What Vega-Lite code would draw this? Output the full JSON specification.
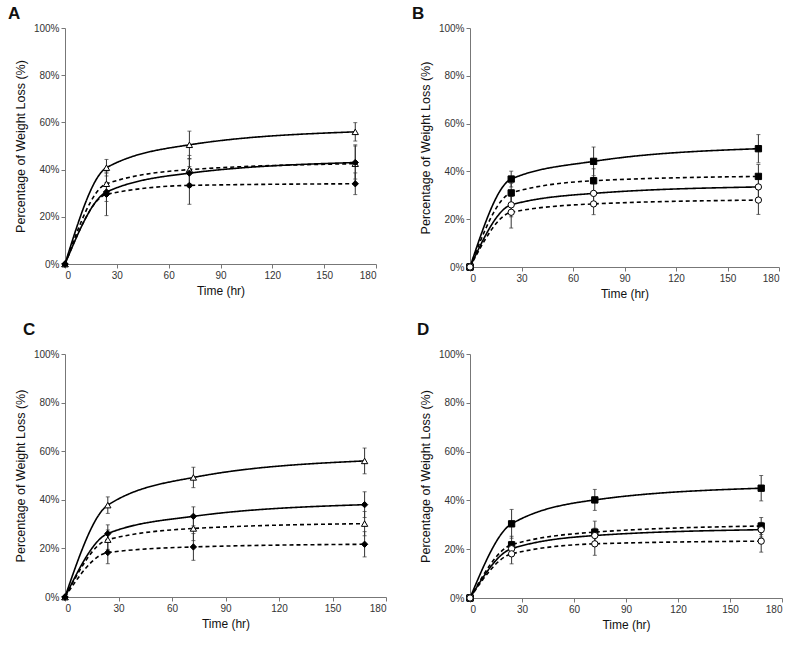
{
  "$schema": "https://vega.github.io/schema/vega-lite/v6.json",
  "background": "white",
  "padding": {"left": 8, "top": 5, "right": 10, "bottom": 5},
  "columns": 2,
  "spacing": {"row": 22, "column": 25},
  "config": {
    "font": "Liberation Sans",
    "view": {"stroke": null},
    "axis": {"grid": false, "domainColor": "#777", "tickColor": "#777", "labelColor": "#333", "labelFontSize": 10, "titleFontSize": 12, "titleFontWeight": "normal", "titleColor": "#111", "tickSize": 4},
    "axisX": {"titleFontSize": 12, "titleFontWeight": "normal", "titlePadding": 5},
    "axisY": {"titleFontSize": 12.5, "titleFontWeight": "normal", "titlePadding": 6},
    "title": {"fontSize": 17, "fontWeight": "bold", "anchor": "start", "frame": "group", "color": "#111"}
  },
  "datasets": {
    "pts": [
      {"panel": "A", "marker": "triangle", "fit": "solid", "time": 0, "loss": 0, "err": 0},
      {"panel": "A", "marker": "triangle", "fit": "solid", "time": 24, "loss": 40.8, "err": 3.5},
      {"panel": "A", "marker": "triangle", "fit": "solid", "time": 72, "loss": 50.5, "err": 5.8},
      {"panel": "A", "marker": "triangle", "fit": "solid", "time": 168, "loss": 56, "err": 3.9},
      {"panel": "A", "marker": "triangle", "fit": "dashed", "time": 0, "loss": 0, "err": 0},
      {"panel": "A", "marker": "triangle", "fit": "dashed", "time": 24, "loss": 34, "err": 5},
      {"panel": "A", "marker": "triangle", "fit": "dashed", "time": 72, "loss": 40, "err": 6},
      {"panel": "A", "marker": "triangle", "fit": "dashed", "time": 168, "loss": 42.5, "err": 8},
      {"panel": "A", "marker": "diamond", "fit": "solid", "time": 0, "loss": 0, "err": 0},
      {"panel": "A", "marker": "diamond", "fit": "solid", "time": 24, "loss": 30.5, "err": 4},
      {"panel": "A", "marker": "diamond", "fit": "solid", "time": 72, "loss": 38.5, "err": 6},
      {"panel": "A", "marker": "diamond", "fit": "solid", "time": 168, "loss": 43, "err": 7},
      {"panel": "A", "marker": "diamond", "fit": "dashed", "time": 0, "loss": 0, "err": 0},
      {"panel": "A", "marker": "diamond", "fit": "dashed", "time": 24, "loss": 29.5, "err": 9},
      {"panel": "A", "marker": "diamond", "fit": "dashed", "time": 72, "loss": 33.3, "err": 8},
      {"panel": "A", "marker": "diamond", "fit": "dashed", "time": 168, "loss": 34, "err": 4.6},
      {"panel": "B", "marker": "square", "fit": "solid", "time": 0, "loss": 0, "err": 0},
      {"panel": "B", "marker": "square", "fit": "solid", "time": 24, "loss": 36.8, "err": 3.3},
      {"panel": "B", "marker": "square", "fit": "solid", "time": 72, "loss": 44.2, "err": 6},
      {"panel": "B", "marker": "square", "fit": "solid", "time": 168, "loss": 49.5, "err": 5.9},
      {"panel": "B", "marker": "square", "fit": "dashed", "time": 0, "loss": 0, "err": 0},
      {"panel": "B", "marker": "square", "fit": "dashed", "time": 24, "loss": 31, "err": 4},
      {"panel": "B", "marker": "square", "fit": "dashed", "time": 72, "loss": 36.1, "err": 5},
      {"panel": "B", "marker": "square", "fit": "dashed", "time": 168, "loss": 37.9, "err": 5},
      {"panel": "B", "marker": "circle", "fit": "solid", "time": 0, "loss": 0, "err": 0},
      {"panel": "B", "marker": "circle", "fit": "solid", "time": 24, "loss": 26, "err": 5},
      {"panel": "B", "marker": "circle", "fit": "solid", "time": 72, "loss": 30.8, "err": 4},
      {"panel": "B", "marker": "circle", "fit": "solid", "time": 168, "loss": 33.5, "err": 5},
      {"panel": "B", "marker": "circle", "fit": "dashed", "time": 0, "loss": 0, "err": 0},
      {"panel": "B", "marker": "circle", "fit": "dashed", "time": 24, "loss": 22.9, "err": 6.6},
      {"panel": "B", "marker": "circle", "fit": "dashed", "time": 72, "loss": 26.4, "err": 4.5},
      {"panel": "B", "marker": "circle", "fit": "dashed", "time": 168, "loss": 28, "err": 6},
      {"panel": "C", "marker": "triangle", "fit": "solid", "time": 0, "loss": 0, "err": 0},
      {"panel": "C", "marker": "triangle", "fit": "solid", "time": 24, "loss": 37.8, "err": 3.4},
      {"panel": "C", "marker": "triangle", "fit": "solid", "time": 72, "loss": 49.2, "err": 4.2},
      {"panel": "C", "marker": "triangle", "fit": "solid", "time": 168, "loss": 56, "err": 5.3},
      {"panel": "C", "marker": "diamond", "fit": "solid", "time": 0, "loss": 0, "err": 0},
      {"panel": "C", "marker": "diamond", "fit": "solid", "time": 24, "loss": 26.1, "err": 3.6},
      {"panel": "C", "marker": "diamond", "fit": "solid", "time": 72, "loss": 33.2, "err": 3.9},
      {"panel": "C", "marker": "diamond", "fit": "solid", "time": 168, "loss": 38, "err": 5.3},
      {"panel": "C", "marker": "triangle", "fit": "dashed", "time": 0, "loss": 0, "err": 0},
      {"panel": "C", "marker": "triangle", "fit": "dashed", "time": 24, "loss": 23.6, "err": 4},
      {"panel": "C", "marker": "triangle", "fit": "dashed", "time": 72, "loss": 28.2, "err": 5},
      {"panel": "C", "marker": "triangle", "fit": "dashed", "time": 168, "loss": 30.2, "err": 5},
      {"panel": "C", "marker": "diamond", "fit": "dashed", "time": 0, "loss": 0, "err": 0},
      {"panel": "C", "marker": "diamond", "fit": "dashed", "time": 24, "loss": 18.3, "err": 4.6},
      {"panel": "C", "marker": "diamond", "fit": "dashed", "time": 72, "loss": 20.6, "err": 5.5},
      {"panel": "C", "marker": "diamond", "fit": "dashed", "time": 168, "loss": 21.7, "err": 5.2},
      {"panel": "D", "marker": "square", "fit": "solid", "time": 0, "loss": 0, "err": 0},
      {"panel": "D", "marker": "square", "fit": "solid", "time": 24, "loss": 30.4, "err": 5.9},
      {"panel": "D", "marker": "square", "fit": "solid", "time": 72, "loss": 40.2, "err": 4.3},
      {"panel": "D", "marker": "square", "fit": "solid", "time": 168, "loss": 45, "err": 5.2},
      {"panel": "D", "marker": "square", "fit": "dashed", "time": 0, "loss": 0, "err": 0},
      {"panel": "D", "marker": "square", "fit": "dashed", "time": 24, "loss": 21.8, "err": 3.5},
      {"panel": "D", "marker": "square", "fit": "dashed", "time": 72, "loss": 27, "err": 4.5},
      {"panel": "D", "marker": "square", "fit": "dashed", "time": 168, "loss": 29.5, "err": 3.5},
      {"panel": "D", "marker": "circle", "fit": "solid", "time": 0, "loss": 0, "err": 0},
      {"panel": "D", "marker": "circle", "fit": "solid", "time": 24, "loss": 20.2, "err": 3},
      {"panel": "D", "marker": "circle", "fit": "solid", "time": 72, "loss": 25.6, "err": 3},
      {"panel": "D", "marker": "circle", "fit": "solid", "time": 168, "loss": 28, "err": 3},
      {"panel": "D", "marker": "circle", "fit": "dashed", "time": 0, "loss": 0, "err": 0},
      {"panel": "D", "marker": "circle", "fit": "dashed", "time": 24, "loss": 18.1, "err": 4.1},
      {"panel": "D", "marker": "circle", "fit": "dashed", "time": 72, "loss": 22.2, "err": 4.7},
      {"panel": "D", "marker": "circle", "fit": "dashed", "time": 168, "loss": 23.3, "err": 4.5}
    ]
  },
  "concat": [
    {
      "title": {"text": "A", "dx": -57, "offset": 0},
      "width": 311, "height": 236,
      "data": {"name": "pts"},
      "transform": [{"filter": "datum.panel === 'A'"}],
      "encoding": {
        "x": {"field": "time", "type": "quantitative", "title": "Time (hr)", "scale": {"domain": [0, 180], "nice": false}, "axis": {"values": [0, 30, 60, 90, 120, 150, 180], "titleFontWeight": "normal", "titleFontSize": 12}},
        "y": {"field": "loss", "type": "quantitative", "title": "Percentage of Weight Loss (%)", "scale": {"domain": [0, 100], "nice": false}, "axis": {"values": [0, 20, 40, 60, 80, 100], "labelExpr": "datum.value + '%'", "titleFontWeight": "normal", "titleFontSize": 12.5}}
      },
      "layer": [
        {"mark": {"type": "line", "interpolate": "monotone", "color": "black", "strokeWidth": 1.6},
         "encoding": {"detail": {"field": "marker"}, "strokeDash": {"field": "fit", "type": "nominal", "scale": {"domain": ["solid", "dashed"], "range": [[1, 0], [4, 3]]}, "legend": null}}},
        {"transform": [{"filter": "datum.time > 0"}],
         "mark": {"type": "errorbar", "ticks": {"size": 4}, "color": "#333", "thickness": 1},
         "encoding": {"yError": {"field": "err"}}},
        {"mark": {"type": "point", "size": 40, "stroke": "black", "strokeWidth": 1, "opacity": 1},
         "encoding": {
           "shape": {"field": "marker", "type": "nominal", "scale": {"domain": ["triangle", "diamond", "square", "circle"], "range": ["triangle-up", "diamond", "square", "circle"]}, "legend": null},
           "fill": {"field": "marker", "type": "nominal", "scale": {"domain": ["triangle", "diamond", "square", "circle"], "range": ["white", "black", "black", "white"]}, "legend": null}
         }}
      ]
    },
    {
      "title": {"text": "B", "dx": -58, "offset": 0},
      "width": 309, "height": 239,
      "data": {"name": "pts"},
      "transform": [{"filter": "datum.panel === 'B'"}],
      "encoding": {
        "x": {"field": "time", "type": "quantitative", "title": "Time (hr)", "scale": {"domain": [0, 180], "nice": false}, "axis": {"values": [0, 30, 60, 90, 120, 150, 180], "titleFontWeight": "normal", "titleFontSize": 12}},
        "y": {"field": "loss", "type": "quantitative", "title": "Percentage of Weight Loss (%)", "scale": {"domain": [0, 100], "nice": false}, "axis": {"values": [0, 20, 40, 60, 80, 100], "labelExpr": "datum.value + '%'", "titleFontWeight": "normal", "titleFontSize": 12.5}}
      },
      "layer": [
        {"mark": {"type": "line", "interpolate": "monotone", "color": "black", "strokeWidth": 1.6},
         "encoding": {"detail": {"field": "marker"}, "strokeDash": {"field": "fit", "type": "nominal", "scale": {"domain": ["solid", "dashed"], "range": [[1, 0], [4, 3]]}, "legend": null}}},
        {"transform": [{"filter": "datum.time > 0"}],
         "mark": {"type": "errorbar", "ticks": {"size": 4}, "color": "#333", "thickness": 1},
         "encoding": {"yError": {"field": "err"}}},
        {"mark": {"type": "point", "size": 40, "stroke": "black", "strokeWidth": 1, "opacity": 1},
         "encoding": {
           "shape": {"field": "marker", "type": "nominal", "scale": {"domain": ["triangle", "diamond", "square", "circle"], "range": ["triangle-up", "diamond", "square", "circle"]}, "legend": null},
           "fill": {"field": "marker", "type": "nominal", "scale": {"domain": ["triangle", "diamond", "square", "circle"], "range": ["white", "black", "black", "white"]}, "legend": null}
         }}
      ]
    },
    {
      "title": {"text": "C", "dx": -42, "offset": 10},
      "width": 321, "height": 243,
      "data": {"name": "pts"},
      "transform": [{"filter": "datum.panel === 'C'"}],
      "encoding": {
        "x": {"field": "time", "type": "quantitative", "title": "Time (hr)", "scale": {"domain": [0, 180], "nice": false}, "axis": {"values": [0, 30, 60, 90, 120, 150, 180], "titleFontWeight": "normal", "titleFontSize": 12}},
        "y": {"field": "loss", "type": "quantitative", "title": "Percentage of Weight Loss (%)", "scale": {"domain": [0, 100], "nice": false}, "axis": {"values": [0, 20, 40, 60, 80, 100], "labelExpr": "datum.value + '%'", "titleFontWeight": "normal", "titleFontSize": 12.5}}
      },
      "layer": [
        {"mark": {"type": "line", "interpolate": "monotone", "color": "black", "strokeWidth": 1.6},
         "encoding": {"detail": {"field": "marker"}, "strokeDash": {"field": "fit", "type": "nominal", "scale": {"domain": ["solid", "dashed"], "range": [[1, 0], [4, 3]]}, "legend": null}}},
        {"transform": [{"filter": "datum.time > 0"}],
         "mark": {"type": "errorbar", "ticks": {"size": 4}, "color": "#333", "thickness": 1},
         "encoding": {"yError": {"field": "err"}}},
        {"mark": {"type": "point", "size": 40, "stroke": "black", "strokeWidth": 1, "opacity": 1},
         "encoding": {
           "shape": {"field": "marker", "type": "nominal", "scale": {"domain": ["triangle", "diamond", "square", "circle"], "range": ["triangle-up", "diamond", "square", "circle"]}, "legend": null},
           "fill": {"field": "marker", "type": "nominal", "scale": {"domain": ["triangle", "diamond", "square", "circle"], "range": ["white", "black", "black", "white"]}, "legend": null}
         }}
      ]
    },
    {
      "title": {"text": "D", "dx": -53, "offset": 10},
      "width": 312, "height": 244,
      "data": {"name": "pts"},
      "transform": [{"filter": "datum.panel === 'D'"}],
      "encoding": {
        "x": {"field": "time", "type": "quantitative", "title": "Time (hr)", "scale": {"domain": [0, 180], "nice": false}, "axis": {"values": [0, 30, 60, 90, 120, 150, 180], "titleFontWeight": "normal", "titleFontSize": 12}},
        "y": {"field": "loss", "type": "quantitative", "title": "Percentage of Weight Loss (%)", "scale": {"domain": [0, 100], "nice": false}, "axis": {"values": [0, 20, 40, 60, 80, 100], "labelExpr": "datum.value + '%'", "titleFontWeight": "normal", "titleFontSize": 12.5}}
      },
      "layer": [
        {"mark": {"type": "line", "interpolate": "monotone", "color": "black", "strokeWidth": 1.6},
         "encoding": {"detail": {"field": "marker"}, "strokeDash": {"field": "fit", "type": "nominal", "scale": {"domain": ["solid", "dashed"], "range": [[1, 0], [4, 3]]}, "legend": null}}},
        {"transform": [{"filter": "datum.time > 0"}],
         "mark": {"type": "errorbar", "ticks": {"size": 4}, "color": "#333", "thickness": 1},
         "encoding": {"yError": {"field": "err"}}},
        {"mark": {"type": "point", "size": 40, "stroke": "black", "strokeWidth": 1, "opacity": 1},
         "encoding": {
           "shape": {"field": "marker", "type": "nominal", "scale": {"domain": ["triangle", "diamond", "square", "circle"], "range": ["triangle-up", "diamond", "square", "circle"]}, "legend": null},
           "fill": {"field": "marker", "type": "nominal", "scale": {"domain": ["triangle", "diamond", "square", "circle"], "range": ["white", "black", "black", "white"]}, "legend": null}
         }}
      ]
    }
  ]
}
